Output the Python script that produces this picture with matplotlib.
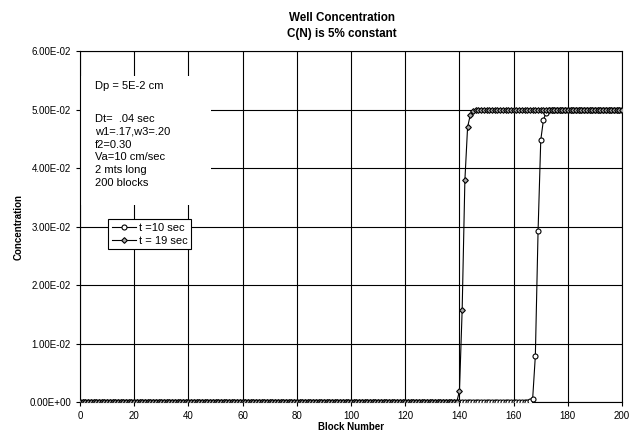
import numpy as np
import matplotlib.pyplot as plt
from matplotlib.patches import Rectangle
from matplotlib.ticker import FuncFormatter

plt.rcParams['font.family'] = ['Liberation Sans', 'DejaVu Sans']

# block numbers 0..200
blocks = np.arange(0, 201)

# t = 10 sec: flat at zero until block 165, front between 166 and 173
t10_front = [0.0002, 0.0005, 0.0079, 0.0292, 0.0448, 0.0483, 0.0495, 0.0499]
t10 = [0.0] * 166 + t10_front + [0.05] * 27

# t = 19 sec: flat at zero until block 139, front between 140 and 146
t19_front = [0.0019, 0.0158, 0.0379, 0.0470, 0.0491, 0.0497, 0.0499]
t19 = [0.0] * 140 + t19_front + [0.05] * 54

notes = "Dt=  .04 sec\nw1=.17,w3=.20\nf2=0.30\nVa=10 cm/sec\n2 mts long\n200 blocks"

fig = plt.figure(figsize=(6.4, 4.37), dpi=100)
ax = fig.add_axes([0.125, 0.080, 0.847, 0.803])

ax.plot(blocks, t10, color='black', lw=0.8, marker='o', ms=3.6,
        mfc='white', mec='black', mew=0.8, label='t =10 sec', zorder=3)
ax.plot(blocks, t19, color='black', lw=0.8, marker='D', ms=2.9,
        mfc='#aaaaaa', mec='black', mew=0.8, label='t = 19 sec', zorder=3)

ax.set_xlim(0, 200)
ax.set_ylim(0, 0.06)
ax.set_xticks(np.arange(0, 201, 20))
ax.set_yticks(np.arange(0, 0.061, 0.01))
ax.yaxis.set_major_formatter(FuncFormatter(lambda v, p: '{:.2E}'.format(v)))
ax.grid(True, color='black', lw=0.8)
ax.set_axisbelow(True)
ax.tick_params(labelsize=7, length=3, width=0.8, direction='out')
for s in ax.spines.values():
    s.set_linewidth(0.8)

ax.set_xlabel('Block Number', fontsize=7, fontweight='bold', labelpad=1)
ax.set_ylabel('Concentration', fontsize=7, fontweight='bold', labelpad=4)
ax.set_title('Well Concentration\nC(N) is 5% constant', fontsize=8.4,
             fontweight='bold', linespacing=1.5, pad=10, x=0.483)

# white area behind the notes
ax.add_patch(Rectangle((0.0, 0.561), 0.242, 0.368, transform=ax.transAxes,
                       facecolor='white', edgecolor='none', zorder=1.5))
ax.text(0.028, 0.902, 'Dp = 5E-2 cm', transform=ax.transAxes, fontsize=8,
        va='center', zorder=2)
ax.text(0.028, 0.822, notes, transform=ax.transAxes, fontsize=8,
        va='top', linespacing=1.37, zorder=2)

leg = ax.legend(loc='upper left', bbox_to_anchor=(0.052, 0.521), fontsize=8,
                frameon=True, fancybox=False, edgecolor='black', framealpha=1,
                handlelength=2.2, handletextpad=0.3, borderpad=0.3,
                labelspacing=0.3, borderaxespad=0)
leg.get_frame().set_linewidth(0.8)

fig.savefig('out.png', dpi=100)
